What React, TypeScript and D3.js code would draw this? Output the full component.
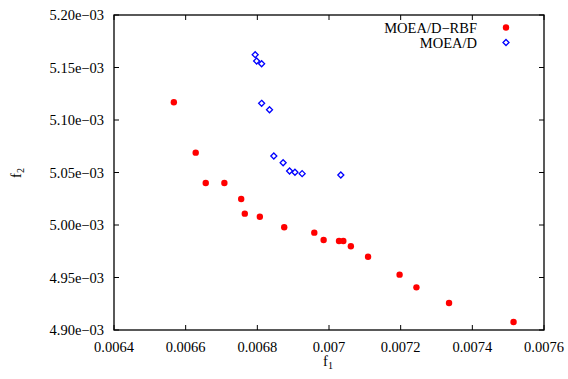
import React from "react";
import * as d3 from "d3";

const rbfX = [0.006567, 0.006628, 0.006656, 0.006708, 0.006755, 0.006765, 0.006807, 0.006875, 0.006959, 0.006985, 0.007028, 0.00704, 0.007061, 0.007109, 0.007197, 0.007244, 0.007335, 0.007515];
const rbfY = [5.1169e-3, 5.0689e-3, 5.040e-3, 5.040e-3, 5.0248e-3, 5.0108e-3, 5.0079e-3, 4.9978e-3, 4.9927e-3, 4.9857e-3, 4.9848e-3, 4.9848e-3, 4.9797e-3, 4.9698e-3, 4.9527e-3, 4.9406e-3, 4.9257e-3, 4.9076e-3];
const moeaX = [0.006794, 0.006798, 0.006812, 0.006812, 0.006834, 0.006846, 0.006872, 0.00689, 0.006905, 0.006925, 0.007033];
const moeaY = [5.1622e-3, 5.1562e-3, 5.1536e-3, 5.1159e-3, 5.1098e-3, 5.0657e-3, 5.0593e-3, 5.0514e-3, 5.0502e-3, 5.0489e-3, 5.0476e-3];
const xTicks = [0.0064, 0.0066, 0.0068, 0.007, 0.0072, 0.0074, 0.0076];
const xTickLabels = ["0.0064", "0.0066", "0.0068", "0.007", "0.0072", "0.0074", "0.0076"];
const yTicks = [4.9e-3, 4.95e-3, 5.0e-3, 5.05e-3, 5.1e-3, 5.15e-3, 5.2e-3];
const yTickLabels = ["4.90e\u221203", "4.95e\u221203", "5.00e\u221203", "5.05e\u221203", "5.10e\u221203", "5.15e\u221203", "5.20e\u221203"];
const seriesNames = ["MOEA/D\u2212RBF", "MOEA/D"];

const W = 568, H = 379;
const L = 114, R = 544, T = 15, B = 330;
const FONT = "'Liberation Serif', 'Times New Roman', serif";
const FS = 14.5;

const diamond = (cx: number, cy: number, s: number) =>
  `M${cx},${cy - s}L${cx + s},${cy}L${cx},${cy + s}L${cx - s},${cy}Z`;

export default function App() {
  const x = d3.scaleLinear().domain([0.0064, 0.0076]).range([L, R]);
  const y = d3.scaleLinear().domain([4.9e-3, 5.2e-3]).range([B, T]);
  const tl = 5;
  return (
    <svg width={W} height={H} style={{ position: "absolute", left: 0, top: 0 }} fontFamily={FONT} fontSize={FS}>
      <rect x={0} y={0} width={W} height={H} fill="white" />
      {xTicks.map((t, i) => (
        <g key={"xt" + i}>
          <line x1={x(t)} x2={x(t)} y1={B} y2={B - tl} stroke="black" strokeWidth={1} />
          <line x1={x(t)} x2={x(t)} y1={T} y2={T + tl} stroke="black" strokeWidth={1} />
          <text x={x(t)} y={351.5} textAnchor="middle">{xTickLabels[i]}</text>
        </g>
      ))}
      {yTicks.map((t, i) => (
        <g key={"yt" + i}>
          <line x1={L} x2={L + tl} y1={y(t)} y2={y(t)} stroke="black" strokeWidth={1} />
          <line x1={R} x2={R - tl} y1={y(t)} y2={y(t)} stroke="black" strokeWidth={1} />
          <text x={104} y={y(t) + 5} textAnchor="end">{yTickLabels[i]}</text>
        </g>
      ))}
      <rect x={L} y={T} width={R - L} height={B - T} fill="none" stroke="black" strokeWidth={1.3} />
      <text x={328} y={366} textAnchor="middle">
        f<tspan fontSize={10} dy={3}>1</tspan>
      </text>
      <text transform="translate(21,173) rotate(-90)" textAnchor="middle">
        f<tspan fontSize={10} dy={3}>2</tspan>
      </text>
      {rbfX.map((v, i) => (
        <circle key={"r" + i} cx={x(v)} cy={y(rbfY[i])} r={3.2} fill="#ff0000" />
      ))}
      {moeaX.map((v, i) => (
        <path key={"m" + i} d={diamond(x(v), y(moeaY[i]), 3)} fill="none" stroke="#0000ff" strokeWidth={1.3} />
      ))}
      <text x={477} y={33} textAnchor="end">{seriesNames[0]}</text>
      <text x={477} y={48} textAnchor="end">{seriesNames[1]}</text>
      <circle cx={506} cy={27.5} r={3.2} fill="#ff0000" />
      <path d={diamond(506, 42.5, 3)} fill="none" stroke="#0000ff" strokeWidth={1.3} />
    </svg>
  );
}
